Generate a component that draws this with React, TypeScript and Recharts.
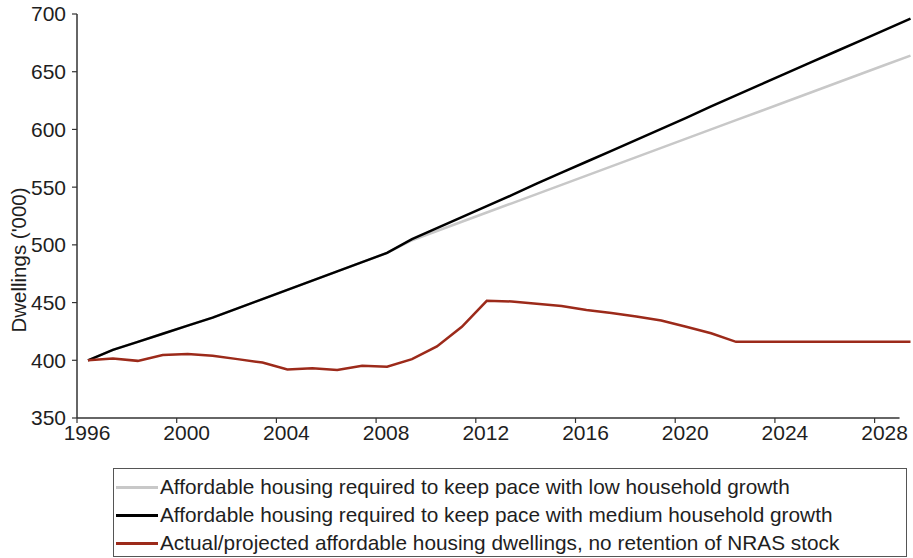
import React from "react";
import { LineChart, Line, XAxis, YAxis, ReferenceLine, Legend, Label } from "recharts";

// Data are mid-year observations (plotted slightly after each year's tick)
const years = [
  1996, 1997, 1998, 1999, 2000, 2001, 2002, 2003, 2004, 2005, 2006, 2007,
  2008, 2009, 2010, 2011, 2012, 2013, 2014, 2015, 2016, 2017, 2018, 2019,
  2020, 2021, 2022, 2023, 2024, 2025, 2026, 2027, 2028, 2029,
];

const lowGrowth = [
  400, 409, 416, 423, 430, 437, 445, 453, 461, 469, 477, 485,
  493, 504, 512, 520, 528, 536, 544, 552, 560, 568, 576, 584,
  592, 600, 608, 616, 624, 632, 640, 648, 656, 664,
];

const mediumGrowth = [
  400, 409, 416, 423, 430, 437, 445, 453, 461, 469, 477, 485,
  493, 505, 514.5, 524, 533.5, 543, 553, 562.5, 572, 581.5, 591, 600.5,
  610, 620, 629.5, 639, 648.5, 658, 667.5, 677, 686.5, 696,
];

const actualProjected = [
  400, 401.5, 399.5, 404.5, 405.5, 404, 401, 398, 392, 393, 391.5, 395.3,
  394.5, 401, 412, 429, 451.5, 451, 449, 447, 443.6, 441, 438, 434.5,
  429, 423.4, 416, 416, 416, 416, 416, 416, 416, 416,
];

const xTicks = [1996, 2000, 2004, 2008, 2012, 2016, 2020, 2024, 2028];
const yTicks = [350, 400, 450, 500, 550, 600, 650, 700];

const seriesNames = [
  "Affordable housing required to keep pace with low household growth",
  "Affordable housing required to keep pace with medium household growth",
  "Actual/projected affordable housing dwellings, no retention of NRAS stock",
];
const seriesColors = ["#c8c8c8", "#000000", "#9c2a1a"];

const MID_YEAR = 0.44;

const data = years.map((y, i) => ({
  x: y + MID_YEAR,
  low: lowGrowth[i],
  medium: mediumGrowth[i],
  actual: actualProjected[i],
}));

const FONT = "'Liberation Sans', Arial, Helvetica, sans-serif";
const TEXT = "#1e1e1e";
const AXIS = "#333333";

const renderLegend = () => (
  <div
    style={{
      boxSizing: "border-box",
      width: 794,
      height: 89,
      border: "1px solid #555",
      paddingTop: 4,
      paddingLeft: 2,
      fontFamily: FONT,
      fontSize: 20.8,
      color: TEXT,
      background: "#fff",
    }}
  >
    {seriesNames.map((n, i) => (
      <div key={n} style={{ display: "flex", alignItems: "center", height: 28 }}>
        <div style={{ width: 42, height: 3, background: seriesColors[i], marginRight: 2 }} />
        <span style={{ whiteSpace: "nowrap" }}>{n}</span>
      </div>
    ))}
  </div>
);

const YLabel = (props: any) => {
  const vb = props.viewBox || {};
  const cx = (vb.x || 0) + 18;
  const cy = (vb.y || 0) + (vb.height || 0) / 2 + 44;
  return (
    <text
      x={cx}
      y={cy}
      transform={`rotate(-90, ${cx}, ${cy})`}
      textAnchor="middle"
      dominantBaseline="central"
      fontFamily={FONT}
      fontSize={20.5}
      fill={TEXT}
    >
      Dwellings ('000)
    </text>
  );
};

export default function App() {
  return (
    <div style={{ position: "absolute", left: 0, top: 0, background: "#fff" }}>
      <LineChart
        width={913}
        height={558}
        data={data}
        margin={{ top: 14, right: 1, left: 0, bottom: 110 }}
      >
        <XAxis
          dataKey="x"
          type="number"
          domain={[1996, 2029.5]}
          ticks={xTicks}
          allowDataOverflow
          axisLine={false}
          tickLine={{ stroke: AXIS, strokeWidth: 1.2 }}
          tickSize={5}
          tickMargin={2}
          height={30}
          tick={{ fontFamily: FONT, fontSize: 21, fill: TEXT, dx: 10 }}
        />
        <YAxis
          type="number"
          domain={[350, 700]}
          ticks={yTicks}
          allowDataOverflow
          width={77}
          axisLine={{ stroke: AXIS, strokeWidth: 1.5 }}
          tickLine={{ stroke: AXIS, strokeWidth: 1.2 }}
          tickSize={5}
          tickMargin={6}
          tick={{ fontFamily: FONT, fontSize: 21, fill: TEXT }}
        >
          <Label content={<YLabel />} />
        </YAxis>
        <ReferenceLine
          segment={[
            { x: 1996, y: 350 },
            { x: 2029, y: 350 },
          ]}
          stroke={AXIS}
          strokeWidth={1.5}
        />
        <Line
          dataKey="low"
          name={seriesNames[0]}
          stroke={seriesColors[0]}
          strokeWidth={2.5}
          dot={false}
          type="linear"
          isAnimationActive={false}
        />
        <Line
          dataKey="medium"
          name={seriesNames[1]}
          stroke={seriesColors[1]}
          strokeWidth={2.5}
          dot={false}
          type="linear"
          isAnimationActive={false}
        />
        <Line
          dataKey="actual"
          name={seriesNames[2]}
          stroke={seriesColors[2]}
          strokeWidth={2.5}
          dot={false}
          type="linear"
          isAnimationActive={false}
        />
        <Legend
          layout="horizontal"
          verticalAlign="middle"
          align="center"
          content={renderLegend}
          wrapperStyle={{ position: "absolute", left: 113, top: 468, width: 794, height: 89 }}
        />
      </LineChart>
    </div>
  );
}
